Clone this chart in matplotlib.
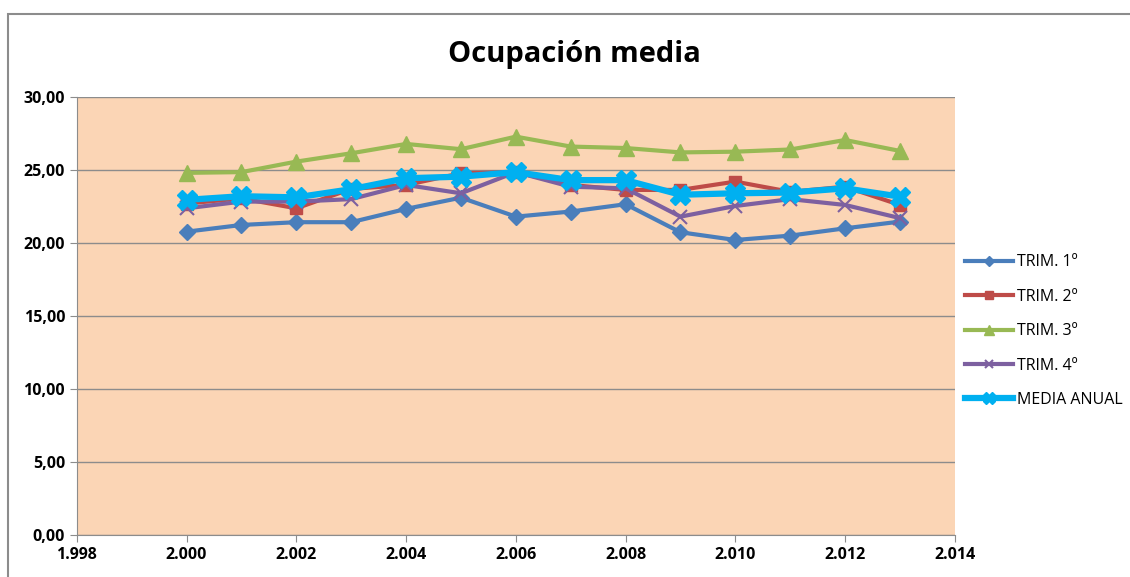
import matplotlib
matplotlib.use('Agg')
import matplotlib.pyplot as plt
from matplotlib.ticker import FuncFormatter, MultipleLocator
from matplotlib.patches import Rectangle

years = list(range(2000, 2014))
trim1 = [20.77, 21.23, 21.42, 21.42, 22.33, 23.1, 21.8, 22.15, 22.65, 20.73, 20.2, 20.5, 21.0, 21.46]
trim2 = [22.7, 23.05, 22.37, 23.7, 23.97, 24.77, 24.85, 23.97, 23.63, 23.63, 24.2, 23.5, 23.85, 22.6]
trim3 = [24.8, 24.85, 25.57, 26.14, 26.78, 26.42, 27.28, 26.6, 26.5, 26.2, 26.25, 26.4, 27.05, 26.3]
trim4 = [22.37, 22.83, 22.83, 23.0, 23.97, 23.4, 24.85, 23.85, 23.74, 21.8, 22.53, 23.0, 22.6, 21.7]
media = [22.95, 23.2, 23.12, 23.68, 24.43, 24.54, 24.85, 24.3, 24.3, 23.3, 23.4, 23.45, 23.74, 23.17]

plt.rcParams['font.family'] = ['Open Sans', 'DejaVu Sans']

fig = plt.figure(figsize=(11.3, 5.77), dpi=100)
# chart border (only top and left edge visible in the crop)
fig.patches.append(Rectangle((8 / 1130, -0.05), 1.0, 1.05 - 14 / 577, transform=fig.transFigure,
                             fill=False, edgecolor='#8c8c8c', lw=1.5))
ax = fig.add_axes([0.068, 0.073, 0.777, 0.759])
ax.set_facecolor('#fbd5b5')

ax.plot(years, trim1, color='#4a7ebb', lw=3, marker='D', ms=8, label='TRIM. 1º')
ax.plot(years, trim2, color='#be4b48', lw=3, marker='s', ms=9, label='TRIM. 2º')
ax.plot(years, trim3, color='#98b954', lw=3, marker='^', ms=11, label='TRIM. 3º')
ax.plot(years, trim4, color='#7d60a0', lw=3, marker='x', ms=10, mew=1.5, label='TRIM. 4º')
ax.plot(years, media, color='#00b0f0', lw=4.5, marker='X', ms=14, label='MEDIA ANUAL')

ax.set_xlim(1998, 2014)
ax.set_ylim(0, 30)
ax.xaxis.set_major_locator(MultipleLocator(2))
ax.yaxis.set_major_locator(MultipleLocator(5))
ax.xaxis.set_major_formatter(FuncFormatter(lambda v, p: '%d.%03d' % (int(v) // 1000, int(v) % 1000)))
ax.yaxis.set_major_formatter(FuncFormatter(lambda v, p: ('%.2f' % v).replace('.', ',')))
ax.grid(axis='y', color='#8c8c8c', lw=1)
ax.set_axisbelow(True)
for s in ['top', 'right']:
    ax.spines[s].set_visible(False)
for s in ['left', 'bottom']:
    ax.spines[s].set_color('#8c8c8c')
ax.tick_params(direction='out', length=5, color='#8c8c8c', labelsize=11.5)
for t in ax.get_xticklabels() + ax.get_yticklabels():
    t.set_fontweight('bold')

fig.text(0.508, 0.905, 'Ocupación media', ha='center', va='center', fontsize=21, fontweight='bold')
ax.legend(loc='center left', bbox_to_anchor=(0.995, 0.465), frameon=False, fontsize=11.5,
          handlelength=3, handletextpad=0.25, labelspacing=1.15, markerscale=0.6)

fig.savefig('out.png', dpi=100)
